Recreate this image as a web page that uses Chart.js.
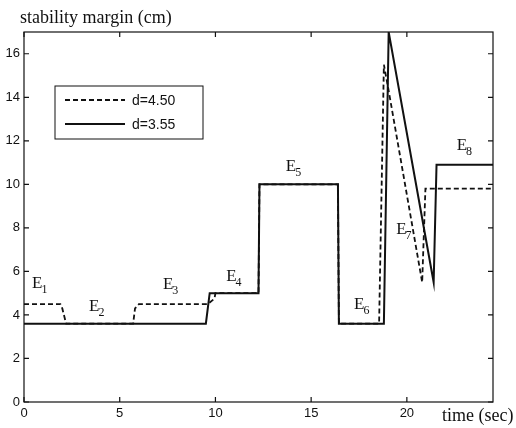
<!DOCTYPE html>
<html>
<head>
<meta charset="utf-8">
<script src="https://cdn.jsdelivr.net/npm/chart.js@4.4.0/dist/chart.umd.min.js"></script>
<style>
  html, body { margin: 0; padding: 0; background: #fff; }
  #wrap { width: 516px; height: 428px; }
</style>
</head>
<body>
<div id="wrap"><canvas id="grafico" width="516" height="428"></canvas></div>
<script>
// dados (tempo em s, margem em cm)
const tempoD355 = [0, 9.5, 9.7, 12.25, 12.3, 16.4, 16.45, 18.8, 19.05, 21.4, 21.55, 24.5];
const margemD355 = [3.6, 3.6, 5.0, 5.0, 10.0, 10.0, 3.6, 3.6, 17.0, 5.5, 10.9, 10.9];

const tempoD450 = [0, 1.9, 2.0, 2.2, 5.7, 5.8, 6.0, 9.6, 9.95, 10.0, 12.25, 12.3, 16.4, 16.45, 18.55, 18.8, 19.05, 20.8, 20.97, 24.5];
const margemD450 = [4.5, 4.5, 4.3, 3.6, 3.6, 4.3, 4.5, 4.5, 4.75, 5.0, 5.0, 10.0, 10.0, 3.6, 3.6, 15.5, 14.3, 5.5, 9.8, 9.8];

const legendas = ["d=4.50", "d=3.55"];

// rótulos das fases E1..E8 (canto esquerdo / linha de base, em coordenadas dos dados)
const fases = ["1", "2", "3", "4", "5", "6", "7", "8"];
const faseX = [0.42, 3.4, 7.26, 10.56, 13.68, 17.24, 19.44, 22.6];
const faseY = [5.25, 4.2, 5.19, 5.54, 10.6, 4.28, 7.7, 11.58];

const xTicks = [0, 5, 10, 15, 20];
const yTicks = [0, 2, 4, 6, 8, 10, 12, 14, 16];

function pontos(xs, ys) {
  return xs.map((x, i) => ({ x: x, y: ys[i] }));
}

const tinta = "#111";

// moldura, marcas internas, legenda, títulos e rótulos E
const extras = {
  id: "extras",
  afterDraw(chart) {
    const ctx = chart.ctx;
    const a = chart.chartArea;
    const sx = chart.scales.x, sy = chart.scales.y;
    ctx.save();
    ctx.strokeStyle = tinta;
    ctx.lineWidth = 1.2;
    ctx.strokeRect(a.left, a.top, a.right - a.left, a.bottom - a.top);

    // marcas para dentro nos quatro lados
    const tl = 5;
    ctx.beginPath();
    xTicks.forEach(v => {
      const px = sx.getPixelForValue(v);
      ctx.moveTo(px, a.bottom); ctx.lineTo(px, a.bottom - tl);
      ctx.moveTo(px, a.top); ctx.lineTo(px, a.top + tl);
    });
    yTicks.forEach(v => {
      const py = sy.getPixelForValue(v);
      ctx.moveTo(a.left, py); ctx.lineTo(a.left + tl, py);
      ctx.moveTo(a.right, py); ctx.lineTo(a.right - tl, py);
    });
    ctx.stroke();

    // títulos dos eixos
    ctx.fillStyle = tinta;
    ctx.font = "18px 'Liberation Serif'";
    ctx.textBaseline = "alphabetic";
    ctx.textAlign = "left";
    ctx.fillText("stability margin (cm)", 20, 23);
    ctx.fillText("time (sec)", 442, 421);

    // legenda
    const lx = a.left + 31, ly = a.top + 54, lw = 148, lh = 53;
    ctx.fillStyle = "#fff";
    ctx.fillRect(lx, ly, lw, lh);
    ctx.lineWidth = 1;
    ctx.strokeRect(lx, ly, lw, lh);
    chart.data.datasets.forEach((ds, k) => {
      const yy = ly + 14 + k * 24;
      ctx.beginPath();
      ctx.setLineDash(ds.borderDash || []);
      ctx.lineWidth = ds.borderWidth;
      ctx.strokeStyle = tinta;
      ctx.moveTo(lx + 10, yy); ctx.lineTo(lx + 70, yy);
      ctx.stroke();
      ctx.setLineDash([]);
      ctx.fillStyle = tinta;
      ctx.font = "14px 'Liberation Sans'";
      ctx.textBaseline = "middle";
      ctx.fillText(ds.label, lx + 77, yy + 1);
    });

    // rótulos E com índice
    ctx.textBaseline = "alphabetic";
    ctx.textAlign = "left";
    fases.forEach((n, i) => {
      const px = sx.getPixelForValue(faseX[i]);
      const py = sy.getPixelForValue(faseY[i]);
      ctx.font = "17px 'Liberation Serif'";
      const w = ctx.measureText("E").width;
      ctx.fillText("E", px, py);
      ctx.font = "12px 'Liberation Serif'";
      ctx.fillText(n, px + w - 1, py + 5);
    });
    ctx.restore();
  }
};

const canvas = document.getElementById("grafico");

let grafico = new Chart(canvas, {
  type: "line",
  data: {
    datasets: [
      {
        label: legendas[0],
        data: pontos(tempoD450, margemD450),
        borderColor: tinta,
        borderWidth: 1.8,
        borderDash: [5, 3],
        pointRadius: 0,
        fill: false,
        tension: 0
      },
      {
        label: legendas[1],
        data: pontos(tempoD355, margemD355),
        borderColor: tinta,
        borderWidth: 2,
        pointRadius: 0,
        fill: false,
        tension: 0
      }
    ]
  },
  options: {
    responsive: false,
    animation: false,
    layout: { padding: { top: 32, right: 23, left: 0, bottom: 0 } },
    plugins: {
      legend: { display: false },
      tooltip: { enabled: false }
    },
    scales: {
      x: {
        type: "linear",
        min: 0,
        max: 24.5,
        grid: { display: false, drawTicks: false },
        border: { display: false },
        ticks: {
          stepSize: 5,
          includeBounds: false,
          padding: 4,
          color: tinta,
          font: { family: "'Liberation Sans'", size: 13 }
        },
        afterFit(s) { s.height = 26; }
      },
      y: {
        min: 0,
        max: 17,
        grid: { display: false, drawTicks: false },
        border: { display: false },
        ticks: {
          stepSize: 2,
          includeBounds: false,
          padding: 4,
          color: tinta,
          font: { family: "'Liberation Sans'", size: 13 }
        },
        afterFit(s) { s.width = 24; }
      }
    }
  },
  plugins: [extras]
});
</script>
</body>
</html>
